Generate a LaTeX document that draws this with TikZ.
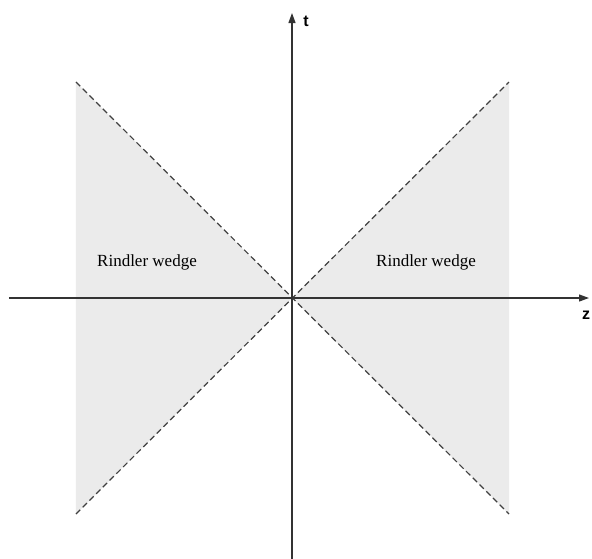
\documentclass[tikz,border=0pt]{standalone}
\usepackage{fontspec}
\setmainfont{Liberation Serif}
\newfontfamily\axisfont{Liberation Sans}
\usepackage{tikz}
\usetikzlibrary{arrows.meta}

\begin{document}
\begin{tikzpicture}[x=1pt,y=1pt,every node/.style={font=\fontsize{17}{20}\selectfont},
	lightcone/.style={dash pattern=on 6pt off 3.5pt, line width=1.2pt, black!75},
	axis/.style={line width=1.2pt, black!80, -{Triangle[length=10pt,width=7pt]}}]
	\useasboundingbox (-292,-260) rectangle (300,298);
	\coordinate (O) at (0,0);
	\coordinate (lt) at (-216,216);
	\coordinate (lb) at (-216,-216);
	\coordinate (rt) at (217,216);
	\coordinate (rb) at (217,-216);
	\fill[black!8] (O) -- (lt) -- (lb) -- cycle;
	\fill[black!8] (O) -- (rt) -- (rb) -- cycle;
	\draw[lightcone] (lt) -- (rb);
	\draw[lightcone] (lb) -- (rt);
	\coordinate (zstart) at (-283,0);
	\coordinate (zend) at (297,0);
	\coordinate (tstart) at (0,-262);
	\coordinate (tend) at (0,285);
	\draw[axis] (zstart) -- (zend);
	\draw[axis] (tstart) -- (tend);
	\node[font=\axisfont\bfseries\fontsize{16}{18}\selectfont] (tlabel) at (14,277) {t};
	\node[font=\axisfont\bfseries\fontsize{16}{18}\selectfont] (zlabel) at (294,-17) {z};
	\node (leftwedge) at (-145,36) {Rindler wedge};
	\node (rightwedge) at (134,36) {Rindler wedge};
\end{tikzpicture}
\end{document}
